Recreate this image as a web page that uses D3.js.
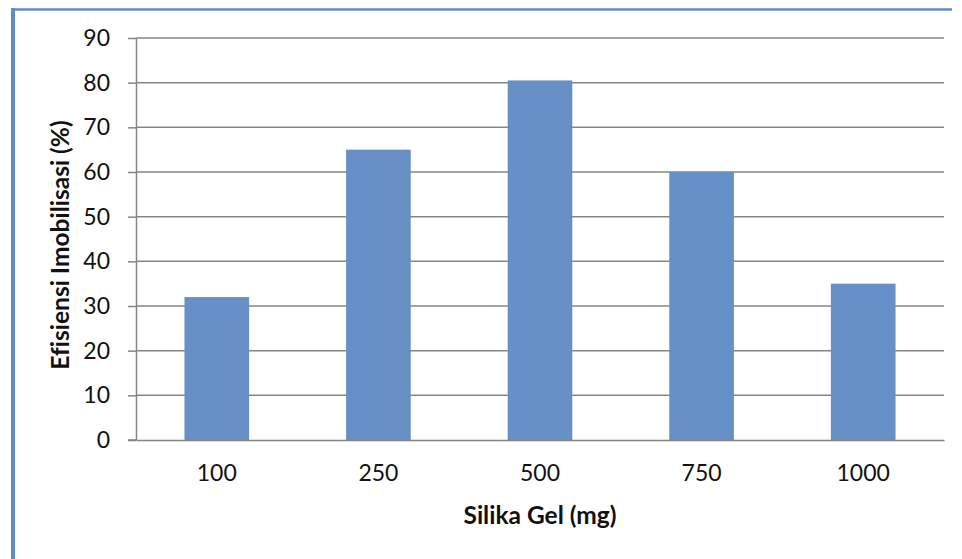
<!DOCTYPE html>
<html>
<head>
<meta charset="utf-8">
<script src="https://cdn.jsdelivr.net/npm/d3@7"></script>
<style>
  html, body { margin: 0; padding: 0; background: #ffffff; }
  svg { display: block; }
  text { font-family: Lato, "Open Sans", sans-serif; fill: #111111; font-variant-ligatures: none; }
</style>
</head>
<body>
<script>
// Immobilisation efficiency for each amount of silica gel
const categories = ["100", "250", "500", "750", "1000"];
const efficiency = [32, 65, 80.5, 60, 35];
const yTicks = [0, 10, 20, 30, 40, 50, 60, 70, 80, 90];
const xTitle = "Silika Gel (mg)";
const yTitle = "Efisiensi Imobilisasi (%)";

const W = 962, H = 559;
const plot = { left: 136, right: 944, top: 38, bottom: 440 };

const svg = d3.select("body").append("svg")
  .attr("width", W).attr("height", H);

// chart frame (top and left edges)
svg.append("line")
  .attr("x1", 11).attr("x2", 952).attr("y1", 9.5).attr("y2", 9.5)
  .attr("stroke", "#5f8cc6").attr("stroke-width", 2.5);
svg.append("line")
  .attr("x1", 13).attr("x2", 13).attr("y1", 8).attr("y2", H)
  .attr("stroke", "#5f8cc6").attr("stroke-width", 4);

const x = d3.scaleBand()
  .domain(categories)
  .range([plot.left, plot.right])
  .paddingInner(0.6).paddingOuter(0.3);

const y = d3.scaleLinear()
  .domain([0, 90])
  .range([plot.bottom, plot.top]);

// horizontal gridlines
svg.append("g")
  .selectAll("line")
  .data(yTicks.filter(d => d > 0))
  .join("line")
  .attr("x1", plot.left).attr("x2", plot.right)
  .attr("y1", d => y(d)).attr("y2", d => y(d))
  .attr("stroke", "#858585").attr("stroke-width", 1.5);

// bars
svg.append("g")
  .selectAll("rect")
  .data(categories.map((c, i) => ({ c, v: efficiency[i] })))
  .join("rect")
  .attr("x", d => x(d.c))
  .attr("width", x.bandwidth())
  .attr("y", d => y(d.v))
  .attr("height", d => y(0) - y(d.v))
  .attr("fill", "#6791c6");

// y axis
const yAxis = svg.append("g")
  .attr("transform", `translate(${plot.left},0)`)
  .call(d3.axisLeft(y).tickValues(yTicks).tickSize(8).tickPadding(18).tickSizeOuter(0));
yAxis.select(".domain").attr("stroke", "#858585").attr("stroke-width", 1.5);
yAxis.selectAll(".tick line").attr("stroke", "#858585").attr("stroke-width", 1.5);
yAxis.selectAll(".tick text")
  .style("font-family", "Lato, 'Open Sans', sans-serif")
  .attr("font-size", 23).attr("fill", "#111111");

// x axis
const xAxis = svg.append("g")
  .attr("transform", `translate(0,${plot.bottom})`)
  .call(d3.axisBottom(x).tickSize(0).tickPadding(25).tickSizeOuter(0));
xAxis.select(".domain").attr("stroke", "#858585").attr("stroke-width", 1.5);
xAxis.selectAll(".tick text")
  .style("font-family", "Lato, 'Open Sans', sans-serif")
  .attr("font-size", 23).attr("fill", "#111111");
svg.append("line")
  .attr("x1", plot.left - 8).attr("x2", plot.left)
  .attr("y1", plot.bottom).attr("y2", plot.bottom)
  .attr("stroke", "#858585").attr("stroke-width", 1.5);

// axis titles
svg.append("text")
  .attr("x", (plot.left + plot.right) / 2).attr("y", 524)
  .attr("text-anchor", "middle")
  .attr("font-size", 24.5).attr("font-weight", "bold")
  .text(xTitle);

svg.append("text")
  .attr("transform", `translate(69,${(plot.top + plot.bottom) / 2 + 6}) rotate(-90)`)
  .attr("text-anchor", "middle")
  .attr("font-size", 24.5).attr("font-weight", "bold")
  .text(yTitle);
</script>
</body>
</html>
